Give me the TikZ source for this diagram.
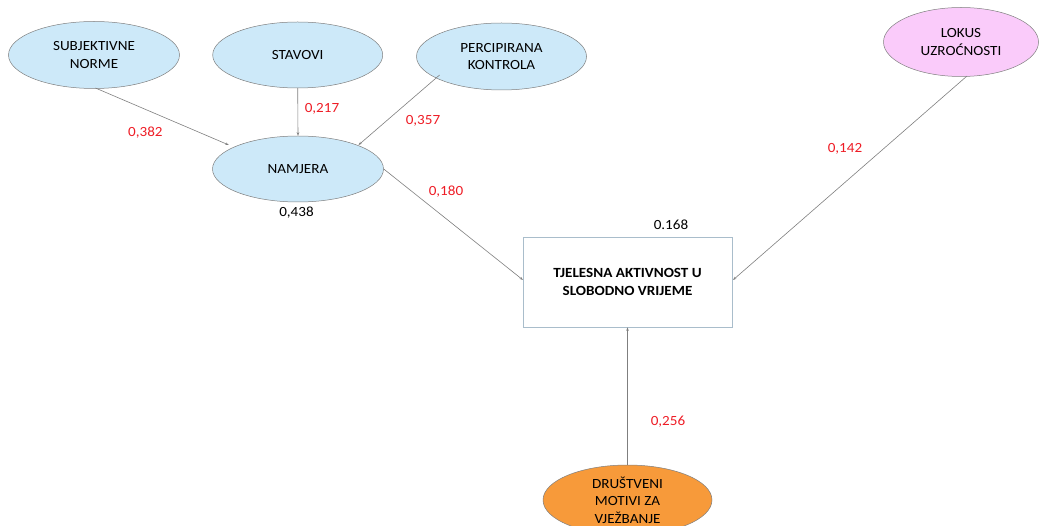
\documentclass[tikz,border=0pt]{standalone}
\usepackage{fontspec}
\setmainfont{Carlito}[FakeStretch=1.08]
\usetikzlibrary{shapes.geometric,arrows.meta}
\definecolor{lblue}{HTML}{CDE9F9}
\definecolor{lpink}{HTML}{FACBFA}
\definecolor{lorange}{HTML}{F79A3A}
\definecolor{edgegray}{HTML}{7F7F7F}
\definecolor{boxline}{HTML}{A9BDCB}
\definecolor{valred}{HTML}{EE1C25}
\begin{document}
\begin{tikzpicture}[x=1pt,y=-1pt,
  font=\fontsize{14}{17.5}\selectfont,
  oval/.style={ellipse,draw=edgegray,line width=0.5pt,inner sep=0pt,align=center},
  conn/.style={draw=edgegray,line width=0.6pt,-{Stealth[length=3.5pt,width=2.5pt]}},
  val/.style={text=valred},
  blk/.style={text=black}]
\useasboundingbox (0,0) rectangle (1039,526);
\begin{scope}
\clip (0,0) rectangle (1039,526);
\node[oval,fill=lblue,minimum width=171pt,minimum height=67pt] (sn) at (94,55) {SUBJEKTIVNE\\NORME};
\node[oval,fill=lblue,minimum width=170pt,minimum height=66pt] (st) at (297.7,55) {STAVOVI};
\node[oval,fill=lblue,minimum width=170pt,minimum height=67pt] (pk) at (501.5,56.5) {PERCIPIRANA\\KONTROLA};
\node[oval,fill=lblue,minimum width=171pt,minimum height=66pt] (nm) at (298,169) {NAMJERA};
\node[oval,fill=lpink,minimum width=155pt,minimum height=69pt] (lu) at (961,42) {LOKUS\\UZROĆNOSTI};
\node[draw=boxline,line width=0.6pt,minimum width=209pt,minimum height=90pt,align=center,font=\fontsize{14}{18}\selectfont\bfseries] (ta) at (627.5,282) {TJELESNA AKTIVNOST U\\SLOBODNO VRIJEME};
\node[oval,fill=lorange,minimum width=169pt,minimum height=70pt] (dm) at (627.5,500) {DRUŠTVENI\\MOTIVI ZA\\VJEŽBANJE};
\end{scope}
\coordinate (snS) at (95.4,88);
\coordinate (snE) at (228.8,145);
\coordinate (pkS) at (439.6,75);
\coordinate (pkE) at (358.5,145);
\coordinate (luS) at (967,76);
\coordinate (taL) at (523,280);
\coordinate (taR) at (733,280);
\draw[conn] (snS) -- (snE);
\draw[conn] (st.south) -- (nm.north);
\draw[conn] (pkS) -- (pkE);
\draw[conn] (nm.east) -- (taL);
\draw[conn] (luS) -- (taR);
\draw[conn] (dm.north) -- (ta.south);
\node[val] (v1) at (145.4,133) {0,382};
\node[val] (v2) at (322,109) {0,217};
\node[val] (v3) at (423,121) {0,357};
\node[val] (v4) at (446,192) {0,180};
\node[blk] (v5) at (296.5,213) {0,438};
\node[blk] (v6) at (671,225) {0.168};
\node[val] (v7) at (845,149) {0,142};
\node[val] (v8) at (668,422) {0,256};
\end{tikzpicture}
\end{document}
